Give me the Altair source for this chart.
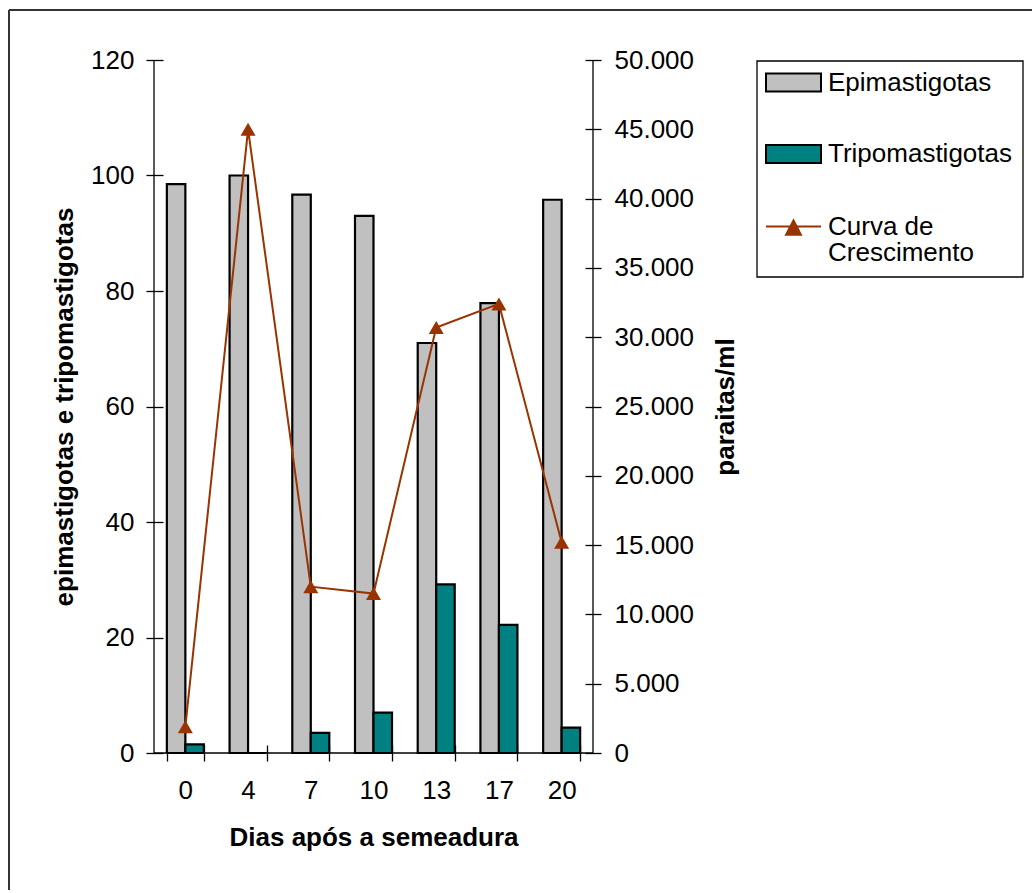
import altair as alt
import pandas as pd

# ---- data ----
dias = ["0", "4", "7", "10", "13", "17", "20"]
epimastigotas = [98.5, 100.0, 96.7, 93.0, 71.0, 77.9, 95.8]
tripomastigotas = [1.5, 0.0, 3.5, 7.0, 29.2, 22.2, 4.4]
curva = [1900, 45000, 12000, 11500, 30700, 32400, 15200]
series = ["Epimastigotas", "Tripomastigotas", "Curva de Crescimento"]
colors = ["#C0C0C0", "#008080", "#993300"]
left_ticks = [0, 20, 40, 60, 80, 100, 120]
right_ticks = [0, 5000, 10000, 15000, 20000, 25000, 30000, 35000, 40000, 45000, 50000]

FONT = "Liberation Sans"
W, H = 439, 693

bars_df = pd.DataFrame({
    "dia": dias * 2,
    "serie": [series[0]] * len(dias) + [series[1]] * len(dias),
    "valor": epimastigotas + tripomastigotas,
})
line_df = pd.DataFrame({"dia": dias, "serie": [series[2]] * len(dias), "valor": curva})

rect_path = "M-1,-0.327H1V0.327H-1Z"
tri_path = "M-1,0H1M-0.27,0.3L0,-0.22L0.27,0.3Z"

legend_bars = alt.Legend(
    title=None, orient="none", legendX=611, legendY=-6, direction="vertical",
    padding=0, rowPadding=29.5,
    symbolType=rect_path, symbolSize=3025, symbolStrokeWidth=2, symbolOffset=0,
    symbolStrokeColor="black", symbolOpacity=1,
    labelFont=FONT, labelFontSize=26, labelColor="black", labelOffset=6, labelLimit=0,
    labelBaseline="middle",
)
legend_line = alt.Legend(
    title=None, orient="none", legendX=611, legendY=138, direction="vertical",
    padding=0,
    symbolType=tri_path, symbolSize=3025, symbolStrokeWidth=2, symbolOffset=0,
    symbolFillColor=colors[2], symbolStrokeColor=colors[2], symbolOpacity=1,
    labelFont=FONT, labelFontSize=26, labelColor="black", labelOffset=6, labelLimit=0,
    labelBaseline="middle",
    labelExpr="['Curva de', 'Crescimento']",
)

x_axis = alt.Axis(
    tickBand="extent", labelAngle=0, labelFont=FONT, labelFontSize=26, labelColor="black",
    labelPadding=16, offset=-8, tickSize=16, tickColor="black", tickWidth=1.3,
    domain=False,
    title="Dias após a semeadura", titleFont=FONT, titleFontSize=26, titleFontWeight="bold",
    titleColor="black", titleY=100.7, titleBaseline="alphabetic",
)
x_enc = alt.X("dia:N", sort=dias,
              scale=alt.Scale(domain=dias, paddingInner=0.41, paddingOuter=0.205),
              axis=x_axis)

left_axis = alt.Axis(
    values=left_ticks, grid=False, labelFont=FONT, labelFontSize=26, labelColor="black",
    labelPadding=12, offset=-9, tickSize=17, tickColor="black", tickWidth=1.3,
    domain=False,
    title="epimastigotas e tripomastigotas", titleFont=FONT, titleFontSize=26,
    titleFontWeight="bold", titleColor="black", titleAngle=270, titleX=-90.5, titleY=346.5,
    titleAlign="center", titleBaseline="alphabetic",
)
right_axis = alt.Axis(
    orient="right", values=right_ticks, grid=False,
    labelExpr="replace(format(datum.value, ','), ',', '.')",
    labelFont=FONT, labelFontSize=26, labelColor="black",
    labelPadding=13, offset=-8, tickSize=16, tickColor="black", tickWidth=1.3,
    domain=False,
    title="paraitas/ml", titleFont=FONT, titleFontSize=26,
    titleFontWeight="bold", titleColor="black", titleAngle=270, titleX=148, titleY=346.5,
    titleAlign="center", titleBaseline="alphabetic",
)

bars = alt.Chart(bars_df).mark_bar(stroke="black", strokeWidth=2.2, opacity=1).encode(
    x=x_enc,
    xOffset=alt.XOffset("serie:N", sort=series[:2],
                        scale=alt.Scale(domain=series[:2], paddingInner=0, paddingOuter=0)),
    y=alt.Y("valor:Q", scale=alt.Scale(domain=[0, 120], nice=False), axis=left_axis),
    color=alt.Color("serie:N", scale=alt.Scale(domain=series[:2], range=colors[:2]),
                    legend=legend_bars),
)

line = alt.Chart(line_df).mark_line(
    strokeWidth=2,
    point=alt.OverlayMarkDef(shape="triangle-up", size=225, filled=True, opacity=1),
).encode(
    x=x_enc,
    y=alt.Y("valor:Q", scale=alt.Scale(domain=[0, 50000], nice=False), axis=right_axis),
    color=alt.Color("serie:N", scale=alt.Scale(domain=series[2:], range=colors[2:]),
                    legend=legend_line),
)

one = pd.DataFrame({"k": [0]})
axis_line = dict(color="black", strokeWidth=1.3)
dom_left = alt.Chart(one).mark_rule(**axis_line).encode(
    x=alt.value(0), y=alt.value(0), y2=alt.value(H))
dom_right = alt.Chart(one).mark_rule(**axis_line).encode(
    x=alt.value(W), y=alt.value(0), y2=alt.value(H))
dom_bottom = alt.Chart(one).mark_rule(**axis_line).encode(
    x=alt.value(0), x2=alt.value(W), y=alt.value(H))
legend_box = alt.Chart(one).mark_rect(fillOpacity=0, stroke="black", strokeWidth=1.3).encode(
    x=alt.value(603), x2=alt.value(869), y=alt.value(1), y2=alt.value(217))
frame_v = alt.Chart(one).mark_rule(color="#333333", strokeWidth=2).encode(
    x=alt.value(-145), y=alt.value(-50), y2=alt.value(830))
frame_h = alt.Chart(one).mark_rule(color="#333333", strokeWidth=2).encode(
    x=alt.value(-145), x2=alt.value(878), y=alt.value(-50))

chart = alt.layer(
    bars, line, dom_left, dom_right, dom_bottom, legend_box, frame_v, frame_h
).resolve_scale(
    y="independent", color="independent"
).properties(
    width=W, height=H,
    padding={"left": 8, "top": 9, "right": 0, "bottom": 0},
    background="white",
).configure(
    font=FONT, style={"guide-label": {"lineHeight": 26}}
).configure_view(stroke=None)

chart.save("out.html", embed_options={"renderer": "svg", "actions": False})
